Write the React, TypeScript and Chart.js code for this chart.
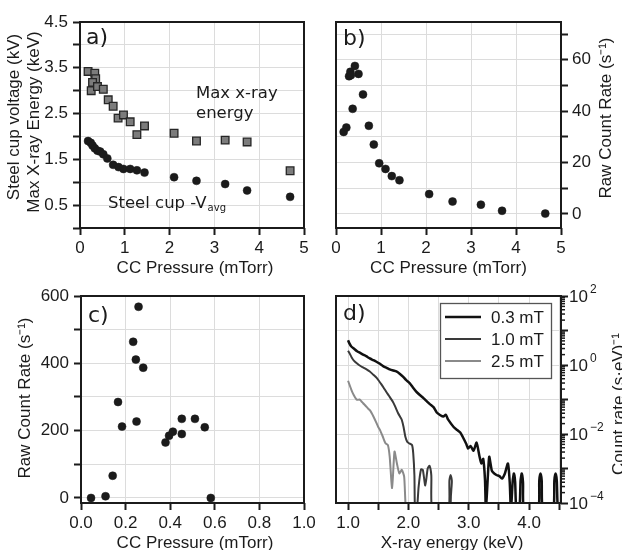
import React, { useEffect, useRef } from 'react';
import { Chart, registerables } from 'chart.js';

Chart.register(...registerables);

// ---------------- data ----------------
// a) Max x-ray energy (keV) vs CC pressure (mTorr)
const pressureEnergy = [0.18, 0.33, 0.35, 0.28, 0.25, 0.39, 0.52, 0.63, 0.74, 0.85, 0.97, 1.12, 1.27, 1.44, 2.10, 2.60, 3.24, 3.73, 4.69];
const maxXrayEnergy = [3.42, 3.38, 3.26, 3.18, 3.00, 3.09, 3.03, 2.80, 2.66, 2.40, 2.47, 2.32, 2.04, 2.23, 2.07, 1.90, 1.92, 1.88, 1.25];
// a) Steel cup -V_avg (kV)
const pressureCup = [0.18, 0.24, 0.28, 0.33, 0.39, 0.45, 0.52, 0.61, 0.74, 0.86, 0.97, 1.12, 1.27, 1.44, 2.10, 2.60, 3.24, 3.73, 4.69];
const steelCupVoltage = [1.90, 1.86, 1.80, 1.74, 1.69, 1.67, 1.61, 1.52, 1.38, 1.33, 1.29, 1.29, 1.26, 1.21, 1.11, 1.03, 0.96, 0.82, 0.68];
// b) raw count rate vs CC pressure
const pressureB = [0.17, 0.23, 0.37, 0.29, 0.32, 0.33, 0.42, 0.50, 0.60, 0.73, 0.84, 0.96, 1.10, 1.24, 1.41, 2.07, 2.59, 3.22, 3.69, 4.65];
const countRateB = [31.9, 33.6, 40.9, 53.6, 55.3, 54.0, 57.6, 54.5, 46.5, 34.3, 27.0, 19.7, 17.5, 14.7, 13.1, 7.7, 4.8, 3.6, 1.2, 0.1];
// c) raw count rate vs CC pressure (low pressure)
const pressureC = [0.045, 0.11, 0.142, 0.166, 0.184, 0.234, 0.246, 0.249, 0.258, 0.279, 0.379, 0.395, 0.412, 0.452, 0.452, 0.511, 0.555, 0.582];
const countRateC = [0, 5, 66, 285, 212, 464, 411, 227, 568, 387, 165, 185, 197, 235, 190, 235, 210, 0];
// d) spectra (count rate per (s eV)); 6e-5 marks zero counts (below the axis)
const energy03 = [1.00, 1.02, 1.05, 1.10, 1.15, 1.20, 1.25, 1.30, 1.36, 1.42, 1.47, 1.52, 1.58, 1.64, 1.69, 1.75, 1.80, 1.86, 1.91, 1.96, 2.02, 2.07, 2.13, 2.19, 2.25, 2.31, 2.36, 2.42, 2.47, 2.53, 2.58, 2.62, 2.66, 2.75, 2.81, 2.86, 2.90, 2.96, 2.99, 3.03, 3.08, 3.13, 3.18, 3.21, 3.24, 3.27, 3.285, 3.315, 3.34, 3.38, 3.40, 3.46, 3.51, 3.55, 3.60, 3.65, 3.68, 3.70, 3.73, 3.75, 3.77, 3.79, 3.84, 3.86, 3.88, 3.90, 3.92, 4.15, 4.17, 4.19, 4.21, 4.23, 4.40, 4.42, 4.44, 4.46, 4.48, 4.53];
const rate03 = [5.2, 4.3, 3.5, 2.95, 2.5, 2.24, 2.0, 1.8, 1.55, 1.38, 1.24, 1.10, 0.93, 0.83, 0.75, 0.69, 0.65, 0.55, 0.46, 0.37, 0.30, 0.23, 0.17, 0.135, 0.11, 0.087, 0.072, 0.059, 0.042, 0.035, 0.032, 0.036, 0.026, 0.016, 0.013, 0.011, 0.0083, 0.0051, 0.0038, 0.0045, 0.0033, 0.0056, 0.0022, 0.0014, 0.0019, 0.00047, 6e-5, 0.0005, 0.0022, 0.00091, 0.00079, 0.00065, 0.0006, 0.00051, 0.00072, 0.0014, 0.0004, 6e-5, 0.00045, 0.00072, 0.0004, 6e-5, 6e-5, 0.00045, 0.00072, 0.0004, 6e-5, 6e-5, 0.00045, 0.00072, 0.00045, 6e-5, 6e-5, 0.00045, 0.00072, 0.00045, 6e-5, 6e-5];
const energy10 = [1.00, 1.03, 1.06, 1.10, 1.15, 1.20, 1.25, 1.30, 1.36, 1.42, 1.47, 1.51, 1.55, 1.59, 1.63, 1.68, 1.74, 1.78, 1.83, 1.87, 1.89, 1.92, 1.95, 1.98, 2.01, 2.06, 2.08, 2.10, 2.11, 2.14, 2.17, 2.21, 2.24, 2.28, 2.32, 2.35, 2.38, 2.40, 2.66, 2.68, 2.70, 2.72, 2.74, 4.53];
const rate10 = [2.6, 2.1, 1.66, 1.32, 1.10, 0.95, 0.85, 0.76, 0.65, 0.52, 0.43, 0.35, 0.28, 0.22, 0.17, 0.126, 0.087, 0.063, 0.040, 0.030, 0.026, 0.016, 0.0083, 0.006, 0.0054, 0.0048, 0.0028, 0.00063, 6e-5, 6e-5, 0.0003, 0.00095, 0.00091, 0.00032, 0.001, 0.0012, 0.00063, 6e-5, 6e-5, 0.00045, 0.00065, 0.00045, 6e-5, 6e-5];
const energy25 = [1.00, 1.03, 1.055, 1.08, 1.11, 1.14, 1.165, 1.19, 1.22, 1.25, 1.29, 1.33, 1.37, 1.41, 1.45, 1.50, 1.53, 1.57, 1.62, 1.66, 1.69, 1.73, 1.77, 1.81, 1.85, 1.89, 1.93, 1.96, 2.00];
const rate25 = [0.35, 0.25, 0.19, 0.15, 0.12, 0.10, 0.098, 0.10, 0.089, 0.078, 0.066, 0.055, 0.047, 0.035, 0.025, 0.016, 0.013, 0.0089, 0.0054, 0.0048, 0.0022, 0.00027, 0.0031, 0.0014, 0.00072, 0.00091, 0.00058, 6e-5, 6e-5];
const spectrumLabels = ['0.3 mT', '1.0 mT', '2.5 mT'];

// tick labels
const yLabelsA = ['0.5', '1.5', '2.5', '3.5', '4.5'];
const xLabelsAB = ['0', '1', '2', '3', '4', '5'];
const yLabelsB = ['0', '20', '40', '60'];
const xLabelsC = ['0.0', '0.2', '0.4', '0.6', '0.8', '1.0'];
const yLabelsC = ['0', '200', '400', '600'];
const xLabelsD = ['1.0', '2.0', '3.0', '4.0'];
const logTickValues = [1e2, 1e0, 1e-2, 1e-4];
const logTickExps = ['2', '0', '\u22122', '\u22124'];
const logDecades = [1e-4, 1e-3, 1e-2, 1e-1, 1, 10, 100];
const minorMult = [2, 3, 4, 5, 6, 7, 8, 9];

// ---------------- styling ----------------
const W = 622;
const H = 550;
const FONT = "'Liberation Sans', Arial, sans-serif";
const VFONT = "'DejaVu Sans', Verdana, sans-serif";
const INK = '#1b1b1b';
const GRID = '#dcdcdc';

const pts = (xs: number[], ys: number[]) => xs.map((x, i) => ({ x, y: ys[i] }));

const fmt = (labels: string[], digits: number) => (v: any) => {
  const s = Number(v).toFixed(digits);
  return labels.includes(s) ? s : '';
};

function fixSize(size: number) {
  return (s: any) => {
    if (s.isHorizontal()) s.height = size;
    else s.width = size;
    s.paddingLeft = 0;
    s.paddingRight = 0;
    s.paddingTop = 0;
    s.paddingBottom = 0;
  };
}

function linAxis(o: any) {
  return {
    type: 'linear',
    position: o.position,
    min: o.min,
    max: o.max,
    afterFit: fixSize(o.size),
    border: { display: false },
    grid: { color: GRID, lineWidth: 1, drawTicks: true, tickLength: 7, tickWidth: 2, tickColor: INK },
    ticks: {
      stepSize: o.step,
      includeBounds: false,
      autoSkip: false,
      maxRotation: 0,
      minRotation: 0,
      padding: o.padding,
      color: INK,
      font: { family: FONT, size: 17 },
      callback: fmt(o.labels, o.digits),
    },
  };
}

type Part = { t: string; f: string; dy?: number; dx?: number };
type TItem = { parts: Part[]; x: number; y: number; align?: 'left' | 'center'; rot?: boolean };

function drawItems(ctx: CanvasRenderingContext2D, items: TItem[]) {
  for (const it of items) {
    ctx.save();
    ctx.fillStyle = INK;
    ctx.textBaseline = 'alphabetic';
    ctx.textAlign = 'left';
    let total = 0;
    const widths = it.parts.map((p) => {
      ctx.font = p.f;
      const w = ctx.measureText(p.t).width + (p.dx || 0);
      total += w;
      return w;
    });
    ctx.translate(it.x, it.y);
    if (it.rot) ctx.rotate(-Math.PI / 2);
    let cx = it.align === 'center' ? -total / 2 : 0;
    it.parts.forEach((p, i) => {
      ctx.font = p.f;
      ctx.fillText(p.t, cx + (p.dx || 0), p.dy || 0);
      cx += widths[i];
    });
    ctx.restore();
  }
}

const framePlugin = {
  id: 'frame',
  afterDatasetsDraw(chart: any) {
    const { left, top, right, bottom } = chart.chartArea;
    const ctx = chart.ctx;
    ctx.save();
    ctx.strokeStyle = INK;
    ctx.lineWidth = 2;
    ctx.strokeRect(left, top, right - left, bottom - top);
    ctx.restore();
  },
};

const textPlugin = (items: TItem[]) => ({
  id: 'texts',
  afterDraw(chart: any) {
    drawItems(chart.ctx, items);
  },
});

const T = (size: number, fam = FONT) => `${size}px ${fam}`;

const baseOptions = (padding: any) => ({
  responsive: false,
  animation: false,
  events: [],
  layout: { padding },
  plugins: { legend: { display: false }, tooltip: { enabled: false } },
});

function configA(): any {
  return {
    type: 'scatter',
    data: {
      datasets: [
        { data: pts(pressureEnergy, maxXrayEnergy), pointStyle: 'rect', pointRadius: 5.4, backgroundColor: '#7c7c7c', borderColor: '#262626', borderWidth: 1.3 },
        { data: pts(pressureCup, steelCupVoltage), pointStyle: 'circle', pointRadius: 4, backgroundColor: INK, borderColor: INK, borderWidth: 0.5 },
      ],
    },
    options: {
      ...baseOptions({ left: 0, top: 22, right: W - 304, bottom: H - 275 }),
      scales: {
        x: linAxis({ position: 'bottom', min: 0, max: 5, step: 1, labels: xLabelsAB, digits: 0, size: 47, padding: 3 }),
        y: linAxis({ position: 'left', min: 0, max: 4.5, step: 0.5, labels: yLabelsA, digits: 1, size: 80, padding: 5 }),
      },
    },
    plugins: [
      framePlugin,
      textPlugin([
        { parts: [{ t: 'a)', f: T(22, VFONT) }], x: 86, y: 44 },
        { parts: [{ t: 'Max x-ray', f: T(16.5, VFONT) }], x: 196, y: 98 },
        { parts: [{ t: 'energy', f: T(16.5, VFONT) }], x: 196, y: 118 },
        { parts: [{ t: 'Steel cup -V', f: T(16.5, VFONT) }, { t: 'avg', f: T(10, VFONT), dy: 3, dx: 1 }], x: 108, y: 208 },
        { parts: [{ t: 'CC Pressure (mTorr)', f: T(17) }], x: 195, y: 273, align: 'center' },
        { parts: [{ t: 'Steel cup voltage (kV)', f: T(17) }], x: 18.5, y: 117, align: 'center', rot: true },
        { parts: [{ t: 'Max X-ray Energy (keV)', f: T(17) }], x: 38.5, y: 122, align: 'center', rot: true },
      ]),
    ],
  };
}

function configB(): any {
  return {
    type: 'scatter',
    data: {
      datasets: [
        { data: pts(pressureB, countRateB), pointStyle: 'circle', pointRadius: 4, backgroundColor: INK, borderColor: INK, borderWidth: 0.5 },
      ],
    },
    options: {
      ...baseOptions({ left: 336, top: 22, right: 0, bottom: H - 275 }),
      scales: {
        x: linAxis({ position: 'bottom', min: 0, max: 5, step: 1, labels: xLabelsAB, digits: 0, size: 47, padding: 3 }),
        y: linAxis({ position: 'right', min: -5.5, max: 74.7, step: 10, labels: yLabelsB, digits: 0, size: 61, padding: 4 }),
      },
    },
    plugins: [
      framePlugin,
      textPlugin([
        { parts: [{ t: 'b)', f: T(22, VFONT) }], x: 343, y: 45 },
        { parts: [{ t: 'CC Pressure (mTorr)', f: T(17) }], x: 448.5, y: 273, align: 'center' },
        { parts: [{ t: 'Raw Count Rate (s\u207B\u00B9)', f: T(17) }], x: 611, y: 118, align: 'center', rot: true },
      ]),
    ],
  };
}

function configC(): any {
  return {
    type: 'scatter',
    data: {
      datasets: [
        { data: pts(pressureC, countRateC), pointStyle: 'circle', pointRadius: 4, backgroundColor: INK, borderColor: INK, borderWidth: 0.5 },
      ],
    },
    options: {
      ...baseOptions({ left: 0, top: 296, right: W - 304, bottom: 0 }),
      scales: {
        x: linAxis({ position: 'bottom', min: 0, max: 1, step: 0.2, labels: xLabelsC, digits: 1, size: 47, padding: 3 }),
        y: linAxis({ position: 'left', min: -15, max: 600, step: 100, labels: yLabelsC, digits: 0, size: 81, padding: 5 }),
      },
    },
    plugins: [
      framePlugin,
      textPlugin([
        { parts: [{ t: 'c)', f: T(22, VFONT) }], x: 88, y: 321.5 },
        { parts: [{ t: 'CC Pressure (mTorr)', f: T(17) }], x: 195, y: 548, align: 'center' },
        { parts: [{ t: 'Raw Count Rate (s\u207B\u00B9)', f: T(17) }], x: 30, y: 398, align: 'center', rot: true },
      ]),
    ],
  };
}

const logAxisPlugin = {
  id: 'logAxis',
  afterDraw(chart: any) {
    const ctx = chart.ctx;
    const ys = chart.scales.y;
    const right = chart.chartArea.right;
    ctx.save();
    ctx.strokeStyle = INK;
    ctx.lineWidth = 1.5;
    for (const d of logDecades) {
      for (const m of minorMult) {
        const v = m * d;
        if (v > 100) continue;
        const y = ys.getPixelForValue(v);
        ctx.beginPath();
        ctx.moveTo(right, y);
        ctx.lineTo(right + 4, y);
        ctx.stroke();
      }
    }
    ctx.fillStyle = INK;
    ctx.textBaseline = 'alphabetic';
    ctx.textAlign = 'left';
    logTickValues.forEach((v, i) => {
      const y = ys.getPixelForValue(v);
      ctx.font = T(17);
      ctx.fillText('10', right + 8, y + 6);
      const w = ctx.measureText('10').width;
      ctx.font = T(12);
      ctx.fillText(logTickExps[i], right + 8 + w + 2, y - 3);
    });
    // legend
    ctx.fillStyle = '#ffffff';
    ctx.fillRect(440.5, 303.5, 111, 75);
    ctx.strokeStyle = '#555555';
    ctx.lineWidth = 1.3;
    ctx.strokeRect(440.5, 303.5, 111, 75);
    const colors = ['#111111', '#3a3a3a', '#8a8a8a'];
    const widths = [2.5, 2, 2];
    spectrumLabels.forEach((lab, i) => {
      const y = 317 + i * 22;
      ctx.strokeStyle = colors[i];
      ctx.lineWidth = widths[i];
      ctx.beginPath();
      ctx.moveTo(445, y);
      ctx.lineTo(481, y);
      ctx.stroke();
      ctx.fillStyle = INK;
      ctx.font = T(17);
      ctx.fillText(lab, 491, y + 6);
    });
    ctx.restore();
  },
};

function configD(): any {
  const line = (xs: number[], ys: number[], color: string, width: number) => ({
    data: pts(xs, ys),
    showLine: true,
    pointRadius: 0,
    borderColor: color,
    backgroundColor: color,
    borderWidth: width,
    tension: 0.2,
    fill: false,
  });
  return {
    type: 'scatter',
    data: {
      datasets: [
        line(energy25, rate25, '#8a8a8a', 2),
        line(energy10, rate10, '#3a3a3a', 2),
        line(energy03, rate03, '#111111', 2.5),
      ],
    },
    options: {
      ...baseOptions({ left: 336, top: 296, right: 0, bottom: 0 }),
      scales: {
        x: linAxis({ position: 'bottom', min: 0.8, max: 4.53, step: 0.5, labels: xLabelsD, digits: 1, size: 47, padding: 3 }),
        y: {
          type: 'logarithmic',
          position: 'right',
          min: 1e-4,
          max: 1e2,
          afterFit: fixSize(61),
          afterBuildTicks: (s: any) => {
            s.ticks = logDecades.map((v) => ({ value: v, major: true }));
          },
          border: { display: false },
          grid: { color: GRID, lineWidth: 1, drawTicks: true, tickLength: 7, tickWidth: 2, tickColor: INK },
          ticks: { autoSkip: false, callback: () => '', font: { family: FONT, size: 17 } },
        },
      },
    },
    plugins: [
      framePlugin,
      logAxisPlugin,
      textPlugin([
        { parts: [{ t: 'd)', f: T(22, VFONT) }], x: 343, y: 320 },
        { parts: [{ t: 'X-ray energy (keV)', f: T(17) }], x: 452, y: 548, align: 'center' },
        { parts: [{ t: 'Count rate (s\u00B7eV)\u207B\u00B9', f: T(17) }], x: 624, y: 404, align: 'center', rot: true },
      ]),
    ],
  };
}

const configs = [configA, configB, configC, configD];

export default function App() {
  const r0 = useRef<HTMLCanvasElement>(null);
  const r1 = useRef<HTMLCanvasElement>(null);
  const r2 = useRef<HTMLCanvasElement>(null);
  const r3 = useRef<HTMLCanvasElement>(null);
  const refs = [r0, r1, r2, r3];

  useEffect(() => {
    const charts = configs.map((cfg, i) => new Chart(refs[i].current as HTMLCanvasElement, cfg()));
    return () => charts.forEach((c) => c.destroy());
  }, []);

  return (
    <div style={{ position: 'fixed', left: 0, top: 0, width: W, height: H, overflow: 'hidden', background: '#ffffff' }}>
      {refs.map((r, i) => (
        <canvas key={i} ref={r} width={W} height={H} style={{ position: 'absolute', left: 0, top: 0, width: W, height: H }} />
      ))}
    </div>
  );
}
